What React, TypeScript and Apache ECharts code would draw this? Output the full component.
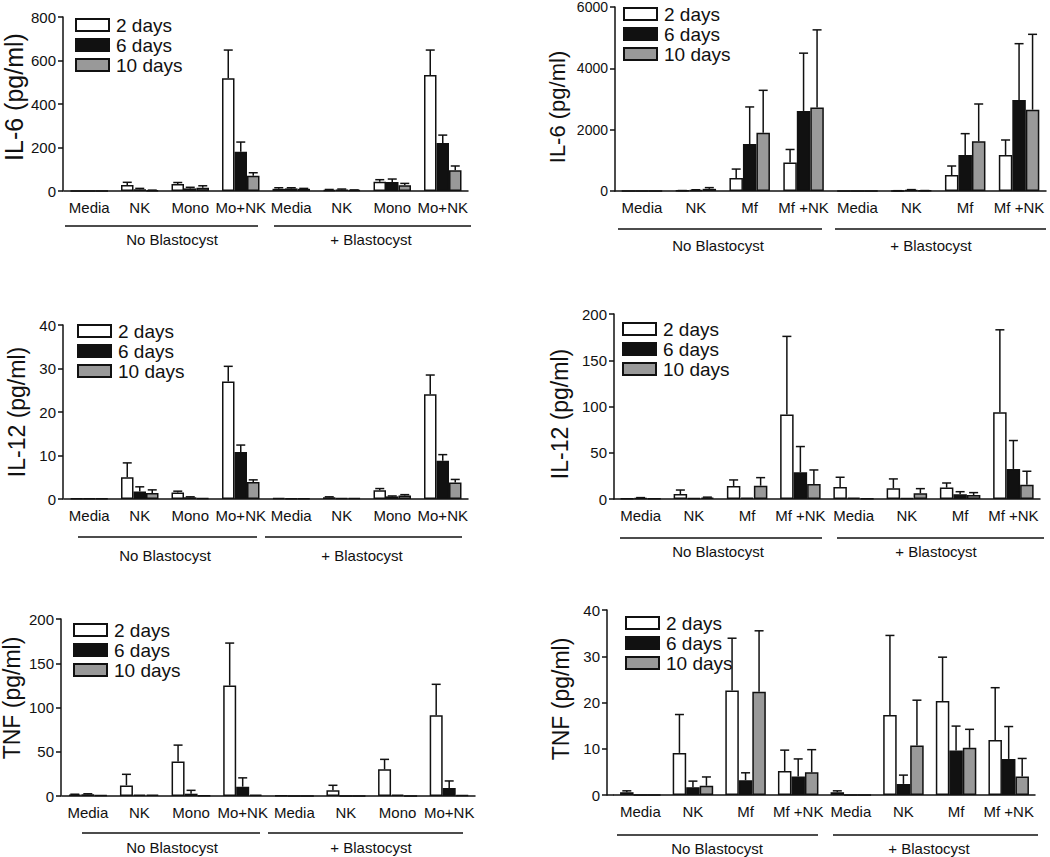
import React, { useEffect, useRef } from "react";
import * as echarts from "echarts";

// ---------- DATA ----------
const seriesNames = ["2 days", "6 days", "10 days"];
const monoCategories = ["Media", "NK", "Mono", "Mo+NK", "Media", "NK", "Mono", "Mo+NK"];
const mfCategories = ["Media", "NK", "Mf", "Mf +NK", "Media", "NK", "Mf", "Mf +NK"];
const groupLabels = ["No Blastocyst", "+ Blastocyst"];

// IL-6, monocytes (top-left). Rows: 2 days, 6 days, 10 days
const il6MonoMean = [
  [0, 28, 32, 518, 10, 5, 42, 533],
  [0, 8, 12, 181, 12, 7, 41, 221],
  [0, 3, 15, 70, 10, 4, 27, 95],
];
const il6MonoErr = [
  [0, 12, 7, 130, 5, 2, 10, 115],
  [0, 4, 5, 44, 3, 2, 14, 36],
  [0, 1, 9, 14, 2, 1, 8, 20],
];

// IL-6, macrophages (top-right)
const il6MfMean = [
  [0, 10, 420, 930, 0, 5, 522, 1175],
  [0, 30, 1530, 2610, 0, 30, 1175, 2967],
  [0, 70, 1896, 2719, 0, 10, 1620, 2652],
];
const il6MfErr = [
  [0, 5, 295, 424, 0, 5, 293, 488],
  [0, 10, 1211, 1885, 0, 15, 695, 1837],
  [0, 40, 1387, 2535, 0, 5, 1217, 2457],
];

// IL-12, monocytes (middle-left)
const il12MonoMean = [
  [0.1, 5.0, 1.5, 27.0, 0.2, 0.4, 2.0, 24.1],
  [0.1, 1.7, 0.4, 10.8, 0.1, 0.2, 0.6, 8.8],
  [0.1, 1.4, 0.2, 3.9, 0.1, 0.2, 0.8, 3.8],
];
const il12MonoErr = [
  [0, 3.3, 0.3, 3.5, 0, 0.1, 0.4, 4.4],
  [0, 1.1, 0.1, 1.6, 0, 0, 0.1, 1.4],
  [0, 0.7, 0, 0.5, 0, 0, 0.2, 0.7],
];

// IL-12, macrophages (middle-right)
const il12MfMean = [
  [0.5, 5.4, 14.1, 91.3, 13.0, 11.6, 12.3, 93.9],
  [1.0, 1.0, 1.5, 28.9, 1.5, 1.0, 5.1, 32.5],
  [0.3, 1.5, 14.4, 16.2, 0.5, 6.1, 4.3, 15.5],
];
const il12MfErr = [
  [0, 4.3, 6.5, 84.5, 10.5, 10.1, 5.0, 89.0],
  [0.5, 0, 0, 27.8, 0, 0, 2.8, 30.7],
  [0, 0.5, 8.7, 15.2, 0, 5.1, 2.6, 14.5],
];

// TNF, monocytes (bottom-left)
const tnfMonoMean = [
  [1.5, 12.0, 39.0, 124.8, 0.5, 6.4, 30.1, 91.2],
  [2.0, 1.5, 2.6, 10.5, 0, 0, 1.5, 9.0],
  [1.0, 1.5, 0.5, 1.5, 0, 0, 0, 1.0],
];
const tnfMonoErr = [
  [0.5, 12.5, 18.5, 48.0, 0, 5.7, 11.3, 35.0],
  [0.5, 0, 3.8, 10.0, 0, 0, 0, 8.0],
  [0, 0, 0, 0, 0, 0, 0, 0],
];

// TNF, macrophages (bottom-right)
const tnfMfMean = [
  [0.6, 9.1, 22.6, 5.2, 0.6, 17.3, 20.3, 11.9],
  [0, 1.7, 3.2, 4.0, 0, 2.4, 9.6, 7.8],
  [0, 2.0, 22.3, 4.9, 0, 10.7, 10.2, 4.0],
];
const tnfMfErr = [
  [0.3, 8.3, 11.3, 4.5, 0.3, 17.2, 9.5, 11.3],
  [0, 1.3, 1.6, 3.8, 0, 1.9, 5.3, 7.0],
  [0, 1.9, 13.2, 4.9, 0, 9.8, 4.0, 3.9],
];

// ---------- LAYOUT / STYLE ----------
const FONT = "'Liberation Sans', Arial, Helvetica, sans-serif";
const barColors = ["#ffffff", "#111111", "#999999"];
const INK = "#111111";

const panels = [
  {
    title: "IL-6 (pg/ml)", cats: monoCategories, mean: il6MonoMean, err: il6MonoErr, max: 800, interval: 200,
    grid: { left: 64, top: 17, width: 404, height: 174 }, yOffset: 1, barW: 12.5,
    titleX: 14, titleY: 97, titleSize: 25, legend: { left: 75, top: 15 },
    lines: [[65, 258], [274, 471]], lineY: 226, labelY: 239, labelX: [172, 371], tickSize: 15,
  },
  {
    title: "IL-6 (pg/ml)", cats: mfCategories, mean: il6MfMean, err: il6MfErr, max: 6000, interval: 2000,
    grid: { left: 615, top: 7, width: 431, height: 184 }, yOffset: 0, barW: 13.5,
    titleX: 557, titleY: 107, titleSize: 22, legend: { left: 623, top: 4 },
    lines: [[618, 822], [835, 1046]], lineY: 229, labelY: 245, labelX: [718, 931], tickSize: 14,
  },
  {
    title: "IL-12 (pg/ml)", cats: monoCategories, mean: il12MonoMean, err: il12MonoErr, max: 40, interval: 10,
    grid: { left: 64, top: 325, width: 404, height: 174 }, yOffset: 1, barW: 12.5,
    titleX: 17, titleY: 412, titleSize: 23, legend: { left: 77, top: 321 },
    lines: [[78, 257], [265, 462]], lineY: 537, labelY: 555, labelX: [165, 362], tickSize: 15,
  },
  {
    title: "IL-12 (pg/ml)", cats: mfCategories, mean: il12MfMean, err: il12MfErr, max: 200, interval: 50,
    grid: { left: 614, top: 314, width: 426, height: 185 }, yOffset: 0, barW: 13.5,
    titleX: 560, titleY: 414, titleSize: 23, legend: { left: 622, top: 319 },
    lines: [[620, 822], [837, 1044]], lineY: 538, labelY: 551, labelX: [718, 936], tickSize: 15,
  },
  {
    title: "TNF (pg/ml)", cats: monoCategories, mean: tnfMonoMean, err: tnfMonoErr, max: 200, interval: 50,
    grid: { left: 62, top: 619, width: 413, height: 177 }, yOffset: 1, barW: 13,
    titleX: 12, titleY: 698, titleSize: 23, legend: { left: 73, top: 620 },
    lines: [[82, 260], [268, 463]], lineY: 833, labelY: 847, labelX: [172, 371], tickSize: 15,
  },
  {
    title: "TNF (pg/ml)", cats: mfCategories, mean: tnfMfMean, err: tnfMfErr, max: 40, interval: 10,
    grid: { left: 614, top: 610, width: 421, height: 185 }, yOffset: 7, barW: 13.5,
    titleX: 561, titleY: 699, titleSize: 23, legend: { left: 625, top: 613 },
    lines: [[617, 818], [833, 1038]], lineY: 835, labelY: 848, labelX: [717, 929], tickSize: 15,
  },
];

function buildOption() {
  const grid: any[] = [];
  const xAxis: any[] = [];
  const yAxis: any[] = [];
  const series: any[] = [];
  const legend: any[] = [];
  const graphic: any[] = [];

  panels.forEach((p, pi) => {
    grid.push({ ...p.grid, containLabel: false });
    xAxis.push({
      type: "category",
      gridIndex: pi,
      data: p.cats,
      axisLine: { lineStyle: { color: INK, width: 1.5 } },
      axisTick: { alignWithLabel: true, length: 5, lineStyle: { color: INK, width: 1.5 } },
      axisLabel: { interval: 0, fontSize: 15, color: INK, margin: 9, fontFamily: FONT },
      splitLine: { show: false },
    });
    yAxis.push({
      type: "value",
      gridIndex: pi,
      min: 0,
      max: p.max,
      interval: p.interval,
      offset: p.yOffset,
      axisLine: { show: true, lineStyle: { color: INK, width: 1.5 } },
      axisTick: { show: true, length: 5, lineStyle: { color: INK, width: 1.5 } },
      axisLabel: {
        fontSize: p.tickSize,
        color: INK,
        margin: 7,
        fontFamily: FONT,
        formatter: (v: number) => String(v),
      },
      splitLine: { show: false },
    });
    legend.push({
      orient: "vertical",
      left: p.legend.left,
      top: p.legend.top,
      padding: 0,
      itemWidth: 33,
      itemHeight: 12,
      itemGap: 0,
      icon: "rect",
      selectedMode: false,
      data: seriesNames,
      itemStyle: { borderColor: INK, borderWidth: 2 },
      textStyle: { fontSize: 19, color: INK, lineHeight: 20, fontFamily: FONT, padding: [0, 0, 0, 2] },
    });

    seriesNames.forEach((name, si) => {
      series.push({
        type: "bar",
        name,
        xAxisIndex: pi,
        yAxisIndex: pi,
        data: p.mean[si],
        barWidth: p.barW,
        barGap: "0%",
        itemStyle: { color: barColors[si], borderColor: INK, borderWidth: 1.5 },
        z: 2,
      });
    });
    seriesNames.forEach((name, si) => {
      const offset = (si - 1) * p.barW;
      const errData = p.mean[si].map((m, ci) => [ci, m, m + p.err[si][ci]]);
      series.push({
        type: "custom",
        name: name + " error",
        xAxisIndex: pi,
        yAxisIndex: pi,
        data: errData,
        encode: { x: 0, y: [1, 2] },
        z: 3,
        silent: true,
        renderItem: (params: any, api: any) => {
          const idx = api.value(0);
          const top = api.value(1);
          const hi = api.value(2);
          if (!(hi > top)) return { type: "group", children: [] };
          const p1 = api.coord([idx, top]);
          const p2 = api.coord([idx, hi]);
          const x = p1[0] + offset;
          const cap = 4.5;
          return {
            type: "group",
            children: [
              { type: "line", shape: { x1: x, y1: p1[1], x2: x, y2: p2[1] }, style: { stroke: INK, lineWidth: 1.5 } },
              { type: "line", shape: { x1: x - cap, y1: p2[1], x2: x + cap, y2: p2[1] }, style: { stroke: INK, lineWidth: 1.5 } },
            ],
          };
        },
      });
    });

    // extend x-axis line back to an offset y-axis
    if (p.yOffset > 1) {
      const yZero = p.grid.top + p.grid.height;
      graphic.push({
        type: "line",
        shape: { x1: p.grid.left - p.yOffset, y1: yZero, x2: p.grid.left, y2: yZero },
        style: { stroke: INK, lineWidth: 1.5 },
      });
    }

    // y-axis title
    graphic.push({
      type: "text",
      x: p.titleX,
      y: p.titleY,
      rotation: Math.PI / 2,
      style: {
        text: p.title,
        fontSize: p.titleSize,
        fontFamily: FONT,
        fill: INK,
        align: "center",
        verticalAlign: "middle",
        textAlign: "center",
        textVerticalAlign: "middle",
      },
    });
    // group lines and labels
    p.lines.forEach((ln, gi) => {
      graphic.push({
        type: "line",
        shape: { x1: ln[0], y1: p.lineY, x2: ln[1], y2: p.lineY },
        style: { stroke: INK, lineWidth: 1.5 },
      });
      graphic.push({
        type: "text",
        x: p.labelX[gi],
        y: p.labelY,
        style: {
          text: groupLabels[gi],
          fontSize: 15,
          fontFamily: FONT,
          fill: INK,
          align: "center",
          verticalAlign: "middle",
          textAlign: "center",
          textVerticalAlign: "middle",
        },
      });
    });
  });

  return {
    animation: false,
    backgroundColor: "#ffffff",
    textStyle: { fontFamily: FONT },
    grid,
    xAxis,
    yAxis,
    legend,
    series,
    graphic,
  };
}

export default function App() {
  const ref = useRef<HTMLDivElement>(null);
  useEffect(() => {
    if (!ref.current) return;
    const chart = echarts.init(ref.current, undefined, { renderer: "svg" });
    chart.setOption(buildOption() as any);
    return () => chart.dispose();
  }, []);
  return (
    <div
      ref={ref}
      style={{ position: "absolute", left: 0, top: 0, width: 1050, height: 857, background: "#fff" }}
    />
  );
}
